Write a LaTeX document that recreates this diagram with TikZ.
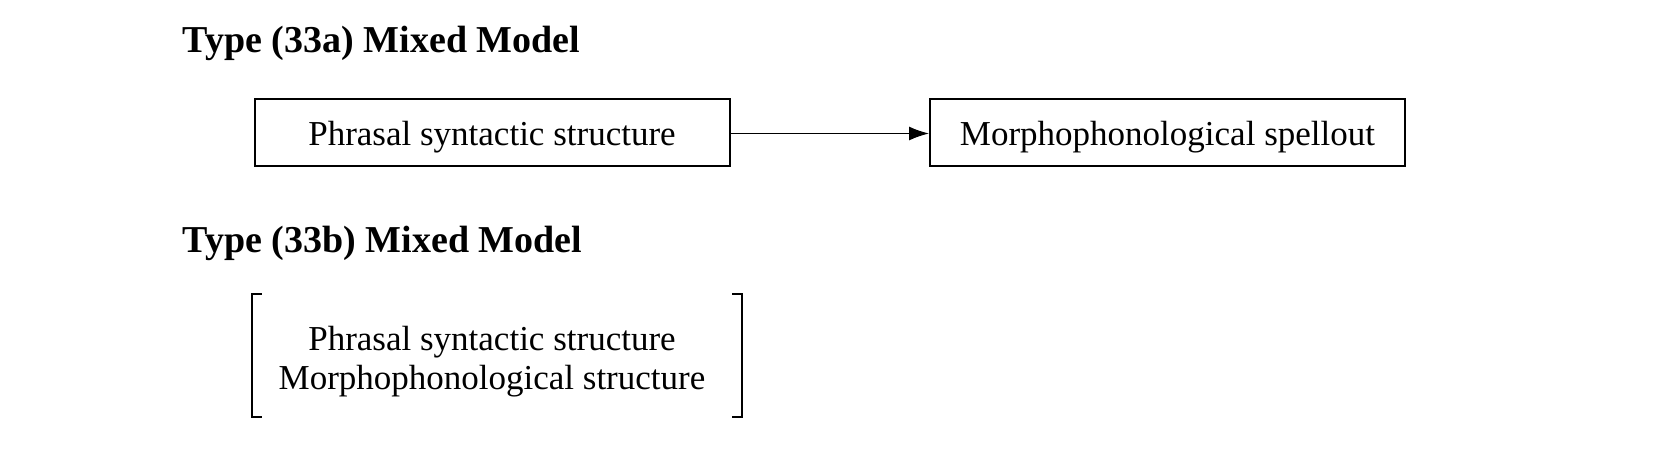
\documentclass[tikz,border=0pt]{standalone}
\usepackage{fontspec}
\setmainfont{Liberation Serif}
\usetikzlibrary{arrows.meta}
\begin{document}
\begin{tikzpicture}[x=1pt,y=-1pt,
  titletext/.style={anchor=west,inner sep=0pt,font=\fontsize{38}{44}\selectfont\bfseries},
  boxnode/.style={draw,line width=2pt,minimum width=475pt,minimum height=67pt,inner sep=0pt,text height=34pt,text depth=7.6pt,font=\fontsize{35}{40}\selectfont},
  arrowline/.style={line width=1.3pt,-{Latex[length=20pt,width=14pt]}},
  bracketline/.style={line width=2pt},
  bodytext/.style={inner sep=0pt,align=center,font=\fontsize{35}{39.5}\selectfont}]
\useasboundingbox (0,0) rectangle (1675,455);
\node[titletext] (ta) at (182.7,43) {Type (33a) Mixed Model};
\node[boxnode] (b1) at (492,132) {Phrasal syntactic structure};
\node[boxnode] (b2) at (1167.5,132) {Morphophonological spellout};
\draw[arrowline] ([yshift=-1.5pt]b1.east) -- ([yshift=-1.5pt]b2.west);
\node[titletext] (tb) at (182.7,243.5) {Type (33b) Mixed Model};
\node[inner sep=0pt,minimum width=490pt,minimum height=123pt] (br) at (497,355.2) {};
\node[bodytext] (bt) at (492,361.5) {Phrasal syntactic structure\\Morphophonological structure};
\draw[bracketline] ([xshift=10pt]br.north west) -- (br.north west) -- (br.south west) -- ([xshift=10pt]br.south west);
\draw[bracketline] ([xshift=-10pt]br.north east) -- (br.north east) -- (br.south east) -- ([xshift=-10pt]br.south east);
\end{tikzpicture}
\end{document}
